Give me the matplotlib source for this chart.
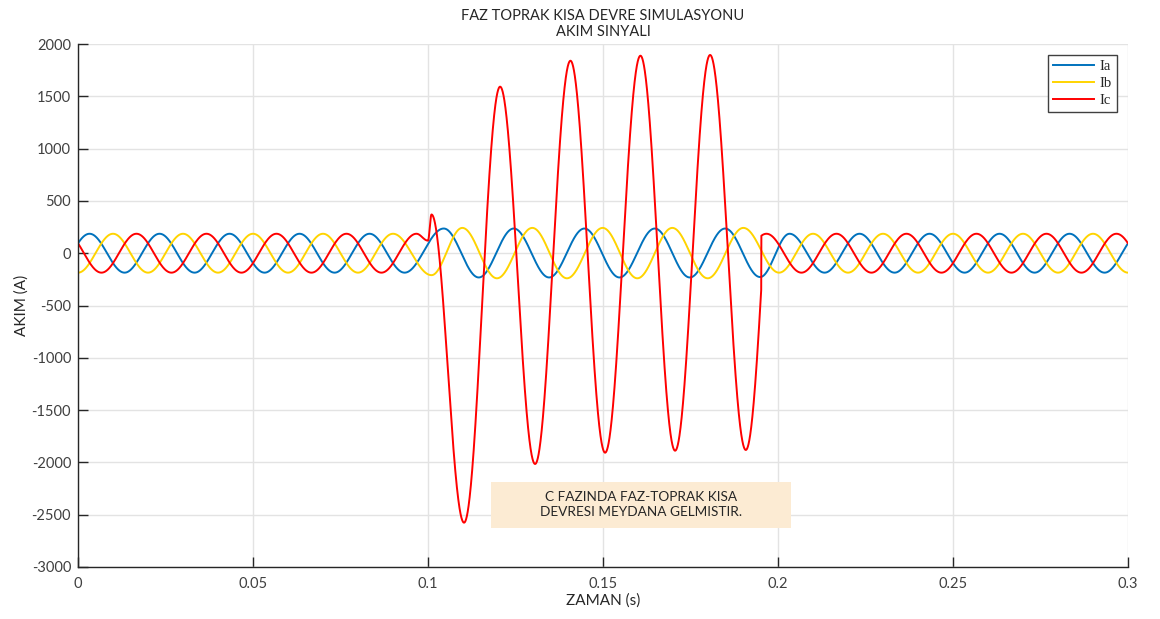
import numpy as np
import matplotlib
matplotlib.use("Agg")
import matplotlib.pyplot as plt
from matplotlib.patches import Rectangle

# Extrema of each phase current (time [s], value [A]); the curve passes
# through every listed peak/trough with a half-cosine between neighbours.
IA_T = [-0.0067, 0.0033, 0.0133, 0.0233, 0.0333, 0.0433, 0.0533, 0.0633, 0.0733,
        0.0833, 0.0933, 0.1045, 0.1145, 0.1245, 0.1346, 0.1447, 0.1547, 0.1648,
        0.1748, 0.1849, 0.1949, 0.2033, 0.2133, 0.2233, 0.2333, 0.2433, 0.2533,
        0.2633, 0.2733, 0.2833, 0.2933, 0.3033]
IA_V = [-186, 186, -186, 186, -186, 186, -186, 186, -186, 186, -186,
        236, -232, 236, -232, 236, -232, 236, -232, 236, -228,
        186, -186, 186, -186, 186, -186, 186, -186, 186, -186, 186]

IB_T = [-0.01, 0.00, 0.01, 0.02, 0.03, 0.04, 0.05, 0.06, 0.07, 0.08, 0.09,
        0.1010, 0.1098, 0.1197, 0.1298, 0.1397, 0.1499, 0.1598, 0.1698, 0.1799,
        0.1901, 0.2003, 0.21, 0.22, 0.23, 0.24, 0.25, 0.26, 0.27, 0.28, 0.29,
        0.30, 0.31]
IB_V = [186, -186, 186, -186, 186, -186, 186, -186, 186, -186, 186,
        -210, 242, -240, 242, -240, 242, -240, 242, -240, 242,
        -186, 186, -186, 186, -186, 186, -186, 186, -186, 186, -186, 186]

# Phase C in normal operation
IC_T = [-0.0033, 0.0067, 0.0167, 0.0267, 0.0367, 0.0467, 0.0567, 0.0667, 0.0767,
        0.0867, 0.0967, 0.1067, 0.1167, 0.1267, 0.1367, 0.1467, 0.1567, 0.1667,
        0.1767, 0.1867, 0.1967, 0.2067, 0.2167, 0.2267, 0.2367, 0.2467, 0.2567,
        0.2667, 0.2767, 0.2867, 0.2967, 0.3067]
IC_V = [186, -186, 186, -186, 186, -186, 186, -186, 186, -186, 186,
        -186, 186, -186, 186, -186, 186, -186, 186, -186, 186,
        -186, 186, -186, 186, -186, 186, -186, 186, -186, 186, -186]

# Phase C during the phase-to-ground fault
ICF_T = [0.0967, 0.1000, 0.1010, 0.1103, 0.1206, 0.1306, 0.1407, 0.1506,
         0.1607, 0.1706, 0.1806, 0.1908, 0.2008]
ICF_V = [186, 120, 370, -2576, 1592, -2015, 1840, -1907, 1888, -1888, 1895,
         -1881, 1881]
FAULT_WINDOW = (0.0967, 0.1952)

SERIES_NAMES = ["Ia", "Ib", "Ic"]
X_TICKS = [0, 0.05, 0.1, 0.15, 0.2, 0.25, 0.3]
X_TICK_LABELS = ["0", "0.05", "0.1", "0.15", "0.2", "0.25", "0.3"]
Y_TICKS = [-3000, -2500, -2000, -1500, -1000, -500, 0, 500, 1000, 1500, 2000]

TITLE = "FAZ TOPRAK KISA DEVRE SIMULASYONU\nAKIM SINYALI"
NOTE = "C FAZINDA FAZ-TOPRAK KISA\nDEVRESI MEYDANA GELMISTIR."


def wave(t, kt, kv):
    kt = np.asarray(kt, float)
    kv = np.asarray(kv, float)
    i = np.clip(np.searchsorted(kt, t, side="right") - 1, 0, len(kt) - 2)
    t0, t1 = kt[i], kt[i + 1]
    v0, v1 = kv[i], kv[i + 1]
    u = (t - t0) / (t1 - t0)
    return (v0 + v1) / 2 + (v0 - v1) / 2 * np.cos(np.pi * u)


t = np.linspace(0, 0.3, 12001)
ia = wave(t, IA_T, IA_V)
ib = wave(t, IB_T, IB_V)
ic = wave(t, IC_T, IC_V)
in_fault = (t >= FAULT_WINDOW[0]) & (t < FAULT_WINDOW[1])
ic = np.where(in_fault, wave(t, ICF_T, ICF_V), ic)

plt.rcParams["font.family"] = ["Lato", "DejaVu Sans"]
plt.rcParams["axes.unicode_minus"] = False

fig = plt.figure(figsize=(11.6, 6.19), dpi=100)
ax = fig.add_axes([78 / 1160, 52 / 619, 1050 / 1160, 523 / 619])

colors = ["#0072BD", "#FFD400", "#FF0000"]
for y, c, name in zip([ia, ib, ic], colors, SERIES_NAMES):
    ax.plot(t, y, color=c, lw=1.4, label=name)

ax.set_xlim(0, 0.3)
ax.set_ylim(-3000, 2000)
ax.set_xticks(X_TICKS)
ax.set_xticklabels(X_TICK_LABELS)
ax.set_yticks(Y_TICKS)
ax.grid(True, color="#e3e3e3", lw=1.0)
ax.set_axisbelow(True)

for side in ("top", "right"):
    ax.spines[side].set_visible(False)
for side in ("left", "bottom"):
    ax.spines[side].set_color("#262626")
    ax.spines[side].set_linewidth(1.0)

ax.tick_params(direction="in", length=7, width=1.0, color="#262626",
               labelcolor="#404040", labelsize=10.5)
ax.tick_params(axis="y", pad=5)
ax.tick_params(axis="x", pad=7)

ax.set_xlabel("ZAMAN (s)", fontsize=11, color="#262626", labelpad=2)
ax.set_ylabel("AKIM (A)", fontsize=11, color="#262626", labelpad=2)
ax.set_title(TITLE, fontsize=10.5, color="#262626", pad=6, linespacing=1.15)

leg = ax.legend(loc="upper right", bbox_to_anchor=(0.9898, 0.979),
                borderaxespad=0, fancybox=False, framealpha=1,
                edgecolor="#404040", handlelength=2.8, handletextpad=0.4,
                labelspacing=0.25, borderpad=0.35,
                prop={"family": "Liberation Serif", "size": 10.5})
leg.get_frame().set_linewidth(1.0)
for txt in leg.get_texts():
    txt.set_color("#262626")

x0, x1 = 0.393, 0.6788
y0, y1 = 0.074, 0.1631
ax.add_patch(Rectangle((x0, y0), x1 - x0, y1 - y0, transform=ax.transAxes,
                       facecolor="#FCEBD3", edgecolor="none", zorder=5))
ax.text((x0 + x1) / 2, (y0 + y1) / 2, NOTE, transform=ax.transAxes,
        ha="center", va="center", fontsize=9.8, color="#262626",
        linespacing=1.3, zorder=6)

fig.savefig("out.png", dpi=100)
